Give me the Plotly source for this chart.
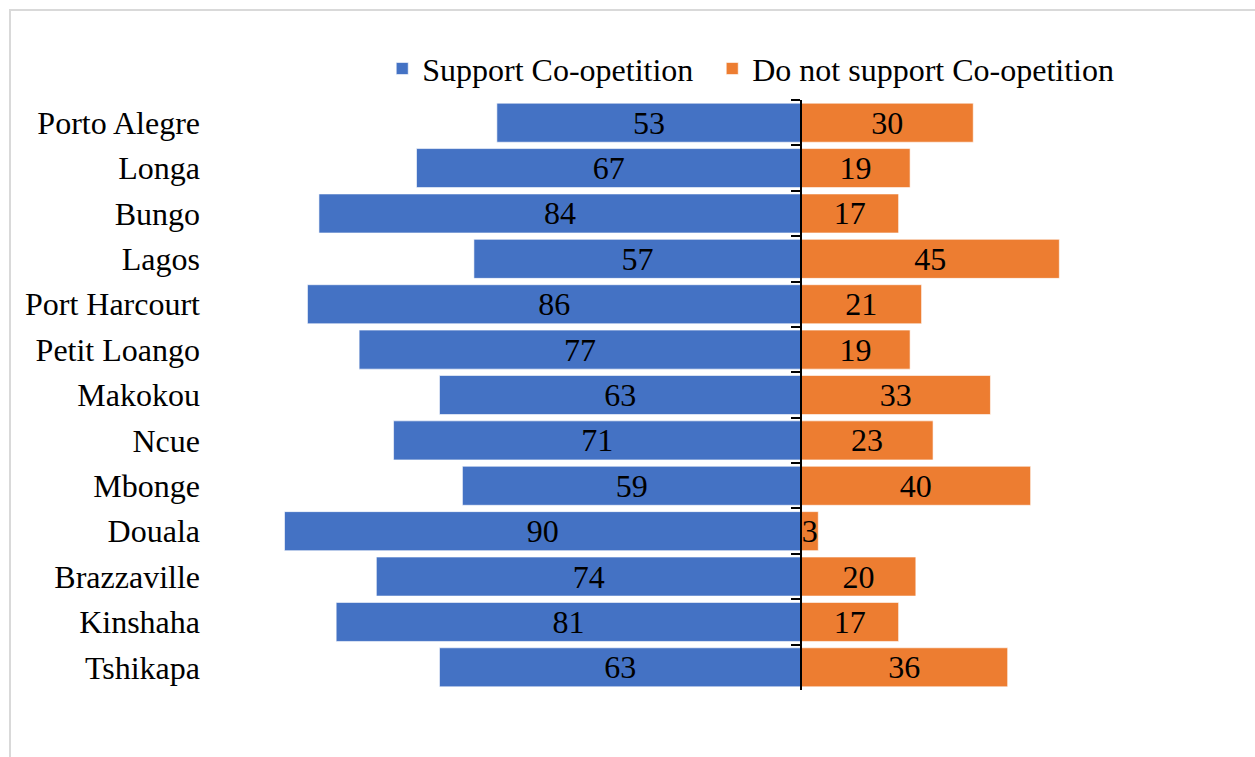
import plotly.graph_objects as go

cities = ["Porto Alegre", "Longa", "Bungo", "Lagos", "Port Harcourt", "Petit Loango",
          "Makokou", "Ncue", "Mbonge", "Douala", "Brazzaville", "Kinshaha", "Tshikapa"]
support = [53, 67, 84, 57, 86, 77, 63, 71, 59, 90, 74, 81, 63]
not_support = [30, 19, 17, 45, 21, 19, 33, 23, 40, 3, 20, 17, 36]

FONT = "Liberation Serif, Times New Roman, serif"
FS = 32
BLUE = "#4472C4"
ORANGE = "#ED7D31"

W, H = 1255, 757
ML, MR, MT, MB = 203, 10, 100, 67
XMIN, XMAX = -104.2, 77.35
zero_pos = (0 - XMIN) / (XMAX - XMIN)

fig = go.Figure()
fig.add_trace(go.Bar(
    y=cities, x=[-v for v in support], orientation="h", name="Support Co-opetition",
    marker=dict(color=BLUE, line=dict(color="white", width=0.6)),
    text=[str(v) for v in support], textposition="inside", insidetextanchor="middle",
    textangle=0, constraintext="none",
    textfont=dict(family=FONT, size=FS, color="black"),
    customdata=support, hovertemplate="%{y}: %{customdata}<extra>Support</extra>",
    yaxis="y", legend="legend",
))
fig.add_trace(go.Bar(
    y=cities, x=not_support, orientation="h", name="Do not support Co-opetition",
    marker=dict(color=ORANGE, line=dict(color="white", width=0.6)),
    text=[str(v) for v in not_support], textposition="inside", insidetextanchor="middle",
    textangle=0, constraintext="none",
    textfont=dict(family=FONT, size=FS, color="black"),
    hovertemplate="%{y}: %{x}<extra>Do not support</extra>",
    yaxis="y2", legend="legend2",
))

legend_common = dict(orientation="h", xanchor="left", y=1.053, yanchor="middle",
                     font=dict(family=FONT, size=FS, color="black"), bgcolor="rgba(0,0,0,0)")

fig.update_layout(
    width=W, height=H,
    margin=dict(l=ML, r=MR, t=MT, b=MB),
    paper_bgcolor="white", plot_bgcolor="white",
    font=dict(family=FONT, size=FS, color="black"),
    bargap=0.14,
    uniformtext=dict(minsize=FS, mode="show"),
    xaxis=dict(range=[XMIN, XMAX], showgrid=False, zeroline=False, showticklabels=False,
               showline=False, ticks=""),
    yaxis=dict(categoryorder="array", categoryarray=cities, range=[12.5, -0.5],
               showgrid=False, zeroline=False, showline=False, ticks="",
               ticklabelstandoff=2,
               tickfont=dict(family=FONT, size=FS, color="black")),
    yaxis2=dict(overlaying="y", anchor="free", position=zero_pos, side="left",
                categoryorder="array", categoryarray=cities, range=[12.5, -0.5],
                showgrid=False, zeroline=False, showline=True, linecolor="black", linewidth=2,
                ticks="outside", tickson="boundaries", ticklen=9, tickcolor="black", tickwidth=2,
                showticklabels=False, layer="above traces"),
    legend=dict(x=0.172, **legend_common),
    legend2=dict(x=0.4887, **legend_common),
    showlegend=True,
)

pw = W - ML - MR
ph = H - MT - MB
fig.add_shape(type="rect", xref="paper", yref="paper",
              x0=(10 - ML) / pw, x1=(1265 - ML) / pw,
              y0=(H - MB - 775) / ph, y1=(H - MB - 10) / ph,
              line=dict(color="#d9d9d9", width=2), fillcolor="rgba(0,0,0,0)", layer="below")

fig.write_html("out.html")
